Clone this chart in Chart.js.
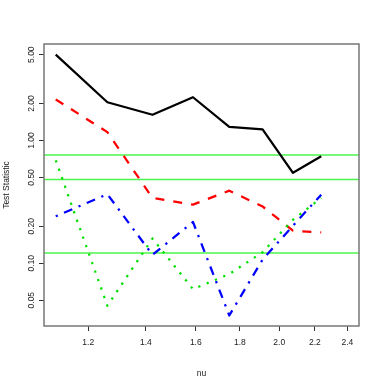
<!DOCTYPE html>
<html>
<head>
<meta charset="utf-8">
<script src="https://cdn.jsdelivr.net/npm/chart.js@4.4.1/dist/chart.umd.min.js"></script>
<style>
  html, body { margin: 0; padding: 0; background: #fff; }
  #wrap { width: 382px; height: 382px; }
</style>
</head>
<body>
<div id="wrap"><canvas id="chart" width="382" height="382"></canvas></div>
<script>
// values (both axes are log scale)
const nu = [1.1, 1.263, 1.425, 1.588, 1.75, 1.913, 2.075, 2.238];
const solidSeries = [5.0, 2.05, 1.62, 2.25, 1.29, 1.23, 0.545, 0.745];
const dashedSeries = [2.16, 1.17, 0.34, 0.30, 0.39, 0.29, 0.184, 0.178];
const dotDashSeries = [0.241, 0.365, 0.117, 0.217, 0.0375, 0.107, 0.202, 0.362];
const dottedSeries = [0.69, 0.045, 0.159, 0.0615, 0.0816, 0.123, 0.226, 0.34];
const refLevels = [0.76, 0.48, 0.121];

const xTicks = [1.2, 1.4, 1.6, 1.8, 2.0, 2.2, 2.4];
const xTickLabels = ['1.2', '1.4', '1.6', '1.8', '2.0', '2.2', '2.4'];
const yTicks = [0.05, 0.1, 0.2, 0.5, 1, 2, 5];
const yTickLabels = ['0.05', '0.10', '0.20', '0.50', '1.00', '2.00', '5.00'];
const xRange = [1.066, 2.476];
const yRange = [0.0308, 6.11];

const FONT = { family: '"Liberation Sans", Arial, sans-serif', size: 8.5 };
const LW = 2.25;

function series(values, color, dash, order) {
  return {
    data: nu.map((x, i) => ({ x, y: values[i] })),
    showLine: true,
    borderColor: color,
    borderWidth: LW,
    borderDash: dash,
    borderCapStyle: 'butt',
    borderJoinStyle: 'round',
    pointRadius: 0,
    tension: 0,
    order
  };
}

function refLine(v) {
  return {
    data: [{ x: xRange[0], y: v }, { x: xRange[1], y: v }],
    showLine: true,
    borderColor: '#4cf54c',
    borderWidth: 1.5,
    pointRadius: 0,
    order: 5
  };
}

const frame = {
  id: 'frame',
  afterDatasetsDraw(chart) {
    const { ctx, chartArea: a } = chart;
    ctx.save();
    ctx.strokeStyle = '#777';
    ctx.lineWidth = 1.5;
    ctx.strokeRect(a.left, a.top, a.right - a.left, a.bottom - a.top);
    ctx.restore();
  }
};

new Chart(document.getElementById('chart'), {
  type: 'scatter',
  data: {
    datasets: [
      series(solidSeries, '#000000', [], 4),
      series(dashedSeries, '#ff0000', [LW * 4, LW * 4], 3),
      series(dotDashSeries, '#0000ff', [LW, LW * 3, LW * 4, LW * 3], 2),
      series(dottedSeries, '#00e000', [LW, LW * 3], 1),
      ...refLevels.map(refLine)
    ]
  },
  options: {
    responsive: false,
    animation: false,
    devicePixelRatio: 1,
    layout: { padding: { left: 0, right: 23, top: 44, bottom: 0 } },
    plugins: { legend: { display: false }, tooltip: { enabled: false } },
    scales: {
      x: {
        type: 'logarithmic',
        min: xRange[0],
        max: xRange[1],
        bounds: 'data',
        afterFit: s => { s.height = 56; },
        afterBuildTicks: s => { s.ticks = xTicks.map(v => ({ value: v })); },
        grid: { drawOnChartArea: false, drawTicks: true, tickLength: 5, color: '#333', lineWidth: 1 },
        border: { display: false },
        ticks: {
          autoSkip: false, maxRotation: 0, minRotation: 0, padding: 6.5,
          color: '#222', font: FONT,
          callback: (v, i) => xTickLabels[i]
        },
        title: { display: true, text: 'nu', color: '#222', font: FONT, padding: { top: 0, bottom: 3.5 } }
      },
      y: {
        type: 'logarithmic',
        min: yRange[0],
        max: yRange[1],
        bounds: 'data',
        afterFit: s => { s.width = 44; },
        afterBuildTicks: s => { s.ticks = yTicks.map(v => ({ value: v })); },
        grid: { drawOnChartArea: false, drawTicks: true, tickLength: 5, color: '#333', lineWidth: 1 },
        border: { display: false },
        ticks: {
          autoSkip: false, minRotation: 90, maxRotation: 90, crossAlign: 'center', padding: -1,
          color: '#222', font: FONT,
          callback: (v, i) => yTickLabels[i]
        },
        title: { display: true, text: 'Test Statistic', color: '#222', font: FONT, padding: { top: 2, bottom: 0 } }
      }
    }
  },
  plugins: [frame]
});
</script>
</body>
</html>
